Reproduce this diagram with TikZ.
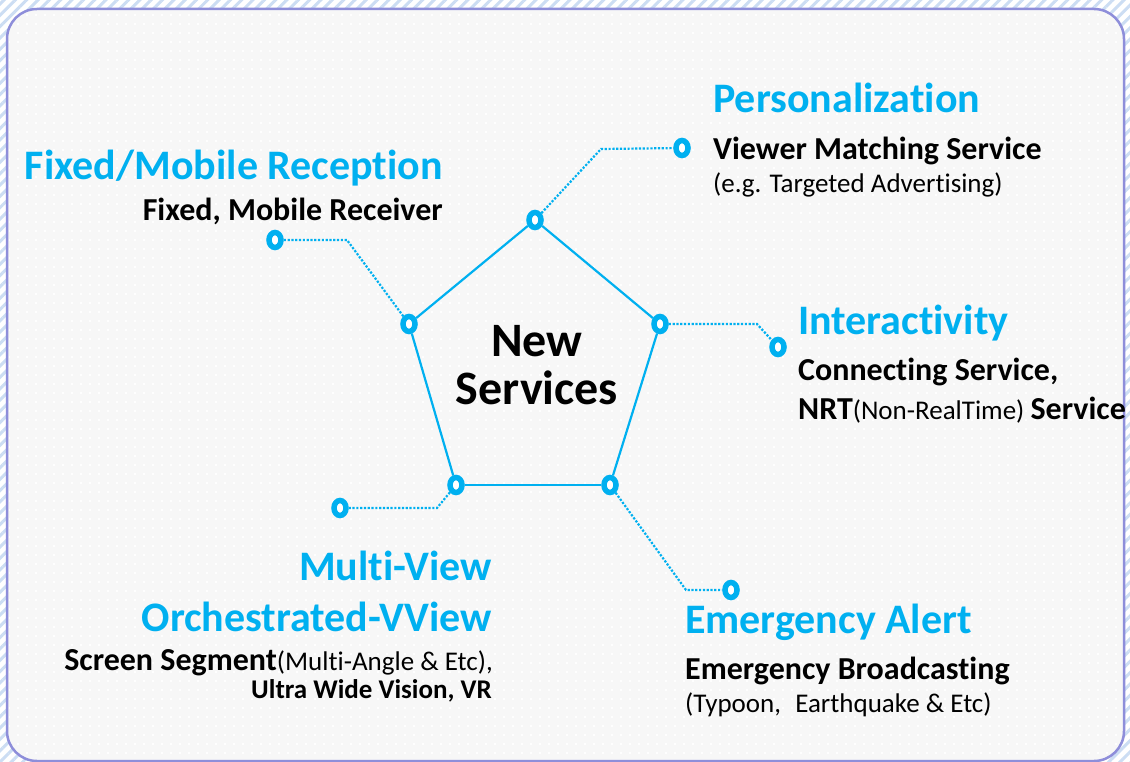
\documentclass[tikz,border=0pt]{standalone}
\usepackage{fontspec}
\setmainfont{Carlito}[Ligatures={NoCommon,NoContextual}, Contextuals=NoAlternate]
\usepackage{tikz}
\usetikzlibrary{positioning, shapes.geometric, patterns.meta}
\usepackage{xcolor}
\definecolor{svcblue}{HTML}{00B0F0}
\definecolor{svcframe}{HTML}{8E8EDA}
\definecolor{svchatch}{HTML}{CCDDF3}
\definecolor{svcbg}{HTML}{F7F7F7}

\newcommand{\keytext}[1]{{\fontsize{32}{32}\selectfont\bfseries #1}}

\tikzset{
  hub/.style={ellipse, draw=svcblue, line width=5.5pt, fill=white,
    minimum width=12pt, minimum height=15pt, inner sep=0pt},
  spoke/.style={svcblue, line width=2.2pt},
  lead/.style={svcblue, line width=2.2pt, dash pattern=on 2.2pt off 1.6pt},
  head/.style={inner sep=0pt, text=svcblue, font=\fontsize{42}{42}\selectfont\bfseries},
  keyline/.style={inner sep=0pt, font=\fontsize{32}{32}\selectfont\bfseries},
  noteline/.style={inner sep=0pt, font=\fontsize{27}{27}\selectfont}
}

\begin{document}
\begin{tikzpicture}[x=1pt, y=-1pt]
\useasboundingbox (0,0) rectangle (1130,762);
% hatched page and the rounded panel
\fill[white] (0,0) rectangle (1130,762);
\fill[pattern={Lines[angle=45,distance=8pt,line width=3pt]}, pattern color=svchatch]
  (0,0) rectangle (1130,762);
\filldraw[draw=svcframe, fill=svcbg, line width=2.5pt, rounded corners=30pt]
  (7,9) rectangle (1124,761);
\fill[pattern={Dots[distance=9pt,radius=1.3pt]}, pattern color=white, rounded corners=30pt]
  (9,11) rectangle (1122,759);

% pentagon corners
\node[hub] (p1) at (535,220) {};
\node[hub] (p2) at (660,324) {};
\node[hub] (p3) at (610,485) {};
\node[hub] (p4) at (456,485) {};
\node[hub] (p5) at (409,324) {};
\foreach \a/\b in {p1/p2, p2/p3, p3/p4, p4/p5, p5/p1}
  \draw[spoke] (\a) -- (\b);

% outer ends of the dotted leads
\node[hub] (t1) at (682,148) {};
\node[hub] (t2) at (778,347) {};
\node[hub] (t3) at (731,590) {};
\node[hub] (t4) at (340,508) {};
\node[hub] (t5) at (275,240) {};
\coordinate (b1) at (601,149);
\coordinate (b2) at (757,324);
\coordinate (b3) at (686,590);
\coordinate (b4) at (437,508);
\coordinate (b5) at (347,240);
\foreach \i in {1,...,5}
  \draw[lead] (p\i) -- (b\i) -- (t\i);

\node[align=center, inner sep=0pt, font=\fontsize{48}{48}\selectfont\bfseries]
  (core) at (537,365) {New\\Services};

% Personalization
\node[head, anchor=base west] (perstitle) at (713,113) {Personalization};
\node[keyline, anchor=base west] (persline) at (713,160) {Viewer Matching Service};
\node[noteline, anchor=base west] (persnote) at (713,193) {(e.g. Targeted Advertising)};

% Fixed/Mobile
\node[head, anchor=base east] (fixtitle) at (443,180) {Fixed/Mobile Reception};
\node[keyline, anchor=base east] (fixline) at (443,221) {Fixed, Mobile Receiver};

% Interactivity
\node[head, anchor=base west] (inttitle) at (798,334) {Interactivity};
\node[keyline, anchor=base west] (intline) at (798,380) {Connecting Service,};
\node[noteline, anchor=base west] (intnote) at (798,419)
  {\keytext{NRT}(Non-RealTime) \keytext{Service}};

% Multi-View
\node[head, anchor=base east] (mvtitle) at (492,580) {Multi-View};
\node[head, anchor=base east] (mvsub) at (492,631) {Orchestrated-VView};
\node[noteline, anchor=base east] (mvline) at (493,670)
  {\keytext{Screen Segment}(Multi-Angle \& Etc),};
\node[noteline, anchor=base east, font=\fontsize{27}{27}\selectfont\bfseries] (mvnote) at (492,698)
  {Ultra Wide Vision, VR};

% Emergency Alert
\node[head, anchor=base west] (emtitle) at (685,633) {Emergency Alert};
\node[keyline, anchor=base west] (emline) at (685,679) {Emergency Broadcasting};
\node[noteline, anchor=base west] (emnote) at (685,712) {(Typoon,\hspace{0.3em} Earthquake \& Etc)};
\end{tikzpicture}
\end{document}
